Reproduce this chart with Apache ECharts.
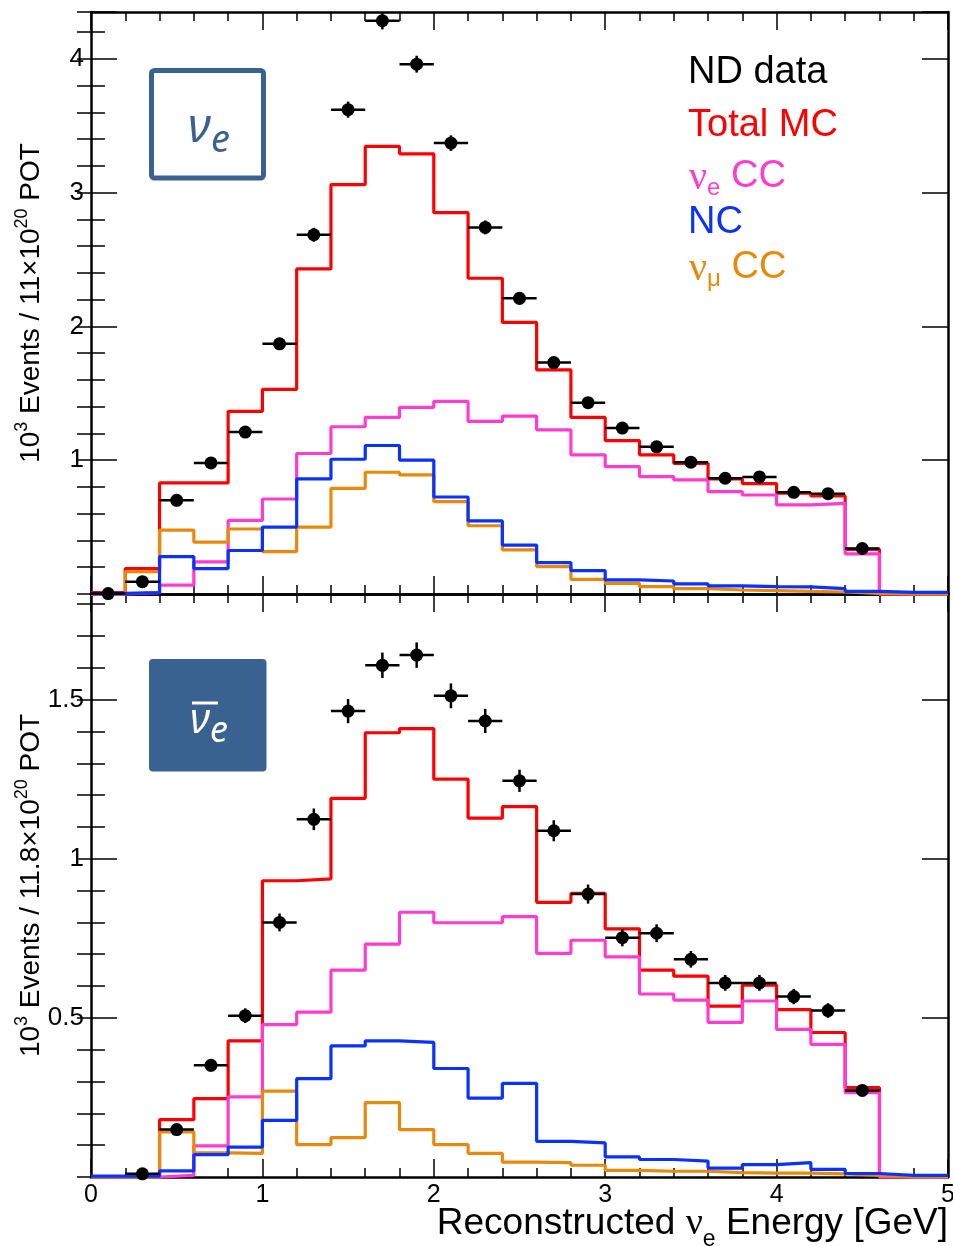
<!DOCTYPE html>
<html>
<head>
<meta charset="utf-8" />
<title>ND nue / nuebar selected spectra</title>
<script src="https://cdn.jsdelivr.net/npm/echarts@6.0.0/dist/echarts.min.js"></script>
</head>
<body style="margin:0; background:#ffffff">
<div id="chart" style="width:953px; height:1246px"></div>
<script type="text/javascript">
// bins of reconstructed energy (GeV)
var binLow = [0, 0.2, 0.4, 0.6, 0.8, 1.0, 1.2, 1.4, 1.6, 1.8, 2.0, 2.2, 2.4, 2.6, 2.8, 3.0, 3.2, 3.4, 3.6, 3.8, 4.0, 4.2, 4.4, 4.6, 4.8];
var binCenter = [0.1, 0.3, 0.5, 0.7, 0.9, 1.1, 1.3, 1.5, 1.7, 1.9, 2.1, 2.3, 2.5, 2.7, 2.9, 3.1, 3.3, 3.5, 3.7, 3.9, 4.1, 4.3, 4.5, 4.7, 4.9];
var lastEdge = 5;
var halfBin = 0.1;

// top panel : nu_e  (10^3 events / 11e20 POT)
var nueData     = [0.003, 0.092, 0.70, 0.98, 1.21, 1.87, 2.685, 3.62, 4.285, 3.96, 3.37, 2.74, 2.21, 1.73, 1.43, 1.24, 1.10, 0.985, 0.865, 0.875, 0.76, 0.75, 0.34, null, null];
var nueDataErr  = [0.002, 0.010, 0.026, 0.031, 0.035, 0.043, 0.052, 0.060, 0.065, 0.063, 0.058, 0.052, 0.047, 0.042, 0.038, 0.035, 0.033, 0.031, 0.029, 0.030, 0.028, 0.027, 0.018, 0, 0];
var nueTotalMC  = [0.01, 0.19, 0.83, 0.83, 1.365, 1.53, 2.43, 3.06, 3.345, 3.29, 2.85, 2.36, 2.03, 1.675, 1.32, 1.147, 1.04, 0.977, 0.86, 0.825, 0.753, 0.733, 0.334, 0, 0];
var nueNueCC    = [0, 0.01, 0.067, 0.24, 0.55, 0.71, 1.05, 1.25, 1.32, 1.395, 1.44, 1.29, 1.33, 1.227, 1.04, 0.952, 0.877, 0.853, 0.765, 0.74, 0.666, 0.678, 0.30, 0, 0];
var nueNC       = [0.005, 0.01, 0.28, 0.19, 0.325, 0.50, 0.86, 1.007, 1.11, 1.00, 0.725, 0.546, 0.366, 0.235, 0.175, 0.105, 0.097, 0.075, 0.06, 0.055, 0.053, 0.04, 0.02, 0.012, 0.012];
var nueNumuCC   = [0, 0.167, 0.478, 0.388, 0.486, 0.317, 0.50, 0.79, 0.91, 0.89, 0.69, 0.51, 0.33, 0.205, 0.11, 0.08, 0.055, 0.04, 0.03, 0.025, 0.02, 0.015, 0.005, 0, 0];

// bottom panel : anti nu_e  (10^3 events / 11.8e20 POT)
var nuebarData    = [null, 0.010, 0.149, 0.351, 0.507, 0.80, 1.124, 1.464, 1.608, 1.64, 1.512, 1.433, 1.245, 1.088, 0.889, 0.752, 0.766, 0.684, 0.61, 0.61, 0.567, 0.523, 0.272, null, null];
var nuebarDataErr = [0, 0.003, 0.012, 0.019, 0.023, 0.028, 0.034, 0.038, 0.040, 0.040, 0.039, 0.038, 0.035, 0.033, 0.030, 0.027, 0.028, 0.026, 0.025, 0.025, 0.024, 0.023, 0.016, 0, 0];
var nuebarTotalMC = [0, 0.005, 0.18, 0.246, 0.428, 0.931, 0.937, 1.19, 1.396, 1.409, 1.25, 1.128, 1.164, 0.863, 0.891, 0.78, 0.65, 0.631, 0.537, 0.603, 0.526, 0.454, 0.281, 0, 0];
var nuebarNueCC   = [0, 0, 0.005, 0.098, 0.252, 0.479, 0.518, 0.65, 0.732, 0.832, 0.799, 0.799, 0.818, 0.703, 0.744, 0.692, 0.575, 0.556, 0.486, 0.553, 0.464, 0.417, 0.265, 0, 0];
var nuebarNC      = [0.003, 0.003, 0.019, 0.07, 0.094, 0.178, 0.309, 0.412, 0.428, 0.423, 0.341, 0.248, 0.294, 0.112, 0.107, 0.063, 0.055, 0.05, 0.028, 0.039, 0.045, 0.024, 0.011, 0.005, 0.005];
var nuebarNumuCC  = [0, 0, 0.142, 0.076, 0.074, 0.27, 0.102, 0.124, 0.234, 0.149, 0.102, 0.074, 0.047, 0.045, 0.037, 0.021, 0.018, 0.018, 0.014, 0.012, 0.012, 0.01, 0.005, 0, 0];

var yMax = [4.35, 1.832];
var yMajor = [1, 0.5];
var yMinor = [0.2, 0.1];

var colRed = '#ff0000', colPink = '#ff3ccd', colBlue = '#0a32ff', colOrange = '#e8890a', colBadge = '#3a6291';
var FONT = 'Liberation Sans';
var SERIF = 'Liberation Serif';

function stepPoints(vals) {
  var pts = binLow.map(function (x, i) { return [x, vals[i]]; });
  pts.push([lastEdge, vals[vals.length - 1]]);
  return pts;
}
function pointData(vals, errs) {
  var out = [];
  binCenter.forEach(function (x, i) {
    if (vals[i] != null) out.push([x, vals[i], errs[i]]);
  });
  return out;
}
function histSeries(name, vals, color, g, z) {
  return {
    name: name, type: 'line', step: 'end', xAxisIndex: g * 2, yAxisIndex: g * 4,
    data: stepPoints(vals), symbol: 'none', clip: false, silent: true, z: z,
    lineStyle: { color: color, width: 3.2 }
  };
}
function renderPoint(params, api) {
  var x = api.value(0), y = api.value(1), e = api.value(2);
  var c = api.coord([x, y]);
  var l = api.coord([x - halfBin, y]), r = api.coord([x + halfBin, y]);
  var t = api.coord([x, y + e]), b = api.coord([x, y - e]);
  return {
    type: 'group',
    children: [
      { type: 'line', shape: { x1: l[0], y1: c[1], x2: r[0], y2: c[1] }, style: { stroke: '#000', lineWidth: 2.5 } },
      { type: 'line', shape: { x1: c[0], y1: t[1], x2: c[0], y2: b[1] }, style: { stroke: '#000', lineWidth: 2.5 } },
      { type: 'circle', shape: { cx: c[0], cy: c[1], r: 6.5 }, style: { fill: '#000' } }
    ]
  };
}
function dataSeries(vals, errs, g) {
  return {
    name: 'ND data', type: 'custom', xAxisIndex: g * 2, yAxisIndex: g * 4,
    data: pointData(vals, errs), renderItem: renderPoint, clip: false, silent: true, z: 10
  };
}

var lineStyleAxis = { color: '#000', width: 2.5 };
var tickStyle = { color: '#000', width: 1.5 };

function xAxisFor(g, pos, labels) {
  return {
    type: 'value', gridIndex: g, position: pos, min: 0, max: lastEdge, interval: 1,
    axisLine: { show: true, onZero: false, lineStyle: lineStyleAxis },
    axisTick: { show: true, inside: true, length: 18, lineStyle: tickStyle },
    minorTick: { show: true, splitNumber: 5, length: 9, lineStyle: tickStyle },
    axisLabel: { show: labels, color: '#000', fontSize: 25, fontFamily: FONT, margin: 6 },
    splitLine: { show: false }, minorSplitLine: { show: false }
  };
}
function yMajorAxis(g, pos, fmt, name) {
  return {
    type: 'value', gridIndex: g, position: pos, min: 0, max: yMax[g], interval: yMajor[g],
    axisLine: { show: true, onZero: false, lineStyle: lineStyleAxis },
    axisTick: { show: true, inside: true, length: 26, lineStyle: tickStyle },
    axisLabel: { show: pos === 'left', color: '#000', fontSize: 26, fontFamily: FONT, margin: 7, formatter: fmt },
    splitLine: { show: false },
    name: name || '', nameLocation: 'middle', nameGap: 46, nameRotate: 90, nameMoveOverlap: false,
    nameTextStyle: {
      rich: {
        n: { fontSize: 28, fontFamily: FONT, color: '#000', lineHeight: 32, verticalAlign: 'bottom' },
        sup: { fontSize: 18, fontFamily: FONT, color: '#000', lineHeight: 18, verticalAlign: 'top' }
      }
    }
  };
}
function yMinorAxis(g, pos) {
  return {
    type: 'value', gridIndex: g, position: pos, min: 0, max: yMax[g], interval: yMinor[g],
    axisLine: { show: false },
    axisTick: { show: true, inside: true, length: 14, lineStyle: tickStyle },
    axisLabel: { show: false }, splitLine: { show: false }
  };
}
function fmtTop(v) {
  return (v > 0 && Math.abs(v - Math.round(v)) < 1e-6) ? String(Math.round(v)) : '';
}
function fmtBottom(v) {
  var h = v * 2;
  return (v > 0 && v < 1.8 && Math.abs(h - Math.round(h)) < 1e-6) ? String(Math.round(h) / 2) : '';
}

var chart = echarts.init(document.getElementById('chart'), null, { renderer: 'canvas' });

// rich text: main tokens hang from the top, subscripts sit on the bottom of a taller line
var legendRich = function (color) {
  return {
    t: { fontSize: 38, fontFamily: FONT, fill: color, lineHeight: 38, verticalAlign: 'top' },
    nu: { fontSize: 40, fontFamily: SERIF, fill: color, lineHeight: 38, verticalAlign: 'top' },
    sub: { fontSize: 24, fontFamily: FONT, fill: color, lineHeight: 42, verticalAlign: 'bottom' }
  };
};

var option = {
  animation: false,
  backgroundColor: '#ffffff',
  grid: [
    { left: 91, top: 12, width: 857, height: 582, outerBoundsMode: 'none', containLabel: false },
    { left: 91, top: 594, width: 857, height: 583, outerBoundsMode: 'none', containLabel: false }
  ],
  xAxis: [
    xAxisFor(0, 'bottom', false),
    xAxisFor(0, 'top', false),
    xAxisFor(1, 'bottom', true),
    xAxisFor(1, 'top', false)
  ],
  yAxis: [
    yMajorAxis(0, 'left', fmtTop, '{n|10}{sup|3}{n| Events / 11×10}{sup|20}{n| POT}'),
    yMinorAxis(0, 'left'),
    yMajorAxis(0, 'right', fmtTop),
    yMinorAxis(0, 'right'),
    yMajorAxis(1, 'left', fmtBottom, '{n|10}{sup|3}{n| Events / 11.8×10}{sup|20}{n| POT}'),
    yMinorAxis(1, 'left'),
    yMajorAxis(1, 'right', fmtBottom),
    yMinorAxis(1, 'right')
  ],
  series: [
    histSeries('Total MC', nueTotalMC, colRed, 0, 3),
    histSeries('nue CC', nueNueCC, colPink, 0, 4),
    histSeries('numu CC', nueNumuCC, colOrange, 0, 5),
    histSeries('NC', nueNC, colBlue, 0, 6),
    dataSeries(nueData, nueDataErr, 0),
    histSeries('Total MC', nuebarTotalMC, colRed, 1, 3),
    histSeries('nue CC', nuebarNueCC, colPink, 1, 4),
    histSeries('numu CC', nuebarNumuCC, colOrange, 1, 5),
    histSeries('NC', nuebarNC, colBlue, 1, 6),
    dataSeries(nuebarData, nuebarDataErr, 1)
  ],
  graphic: [
    // legend (text only, coloured like the series)
    { type: 'text', x: 688, y: 73, z: 20, style: { text: 'ND data', fontSize: 38, fontFamily: FONT, fill: '#000', verticalAlign: 'middle' } },
    { type: 'text', x: 688, y: 126, z: 20, style: { text: 'Total MC', fontSize: 38, fontFamily: FONT, fill: colRed, verticalAlign: 'middle' } },
    { type: 'text', x: 689, y: 158, z: 20, style: { text: '{nu|ν}{sub|e}{t| CC}', rich: legendRich(colPink), verticalAlign: 'top' } },
    { type: 'text', x: 688, y: 223, z: 20, style: { text: 'NC', fontSize: 38, fontFamily: FONT, fill: colBlue, verticalAlign: 'middle' } },
    { type: 'text', x: 689, y: 249, z: 20, style: { text: '{nu|ν}{sub|μ}{t| CC}', rich: legendRich(colOrange), verticalAlign: 'top' } },
    // x axis title
    { type: 'text', x: 948, y: 1205, z: 20, style: {
        text: '{t|Reconstructed }{nu|ν}{sub|e}{t| Energy [GeV]}', align: 'right', verticalAlign: 'top',
        rich: {
          t: { fontSize: 37, fontFamily: FONT, fill: '#000', lineHeight: 37, verticalAlign: 'top' },
          nu: { fontSize: 38, fontFamily: SERIF, fill: '#000', lineHeight: 37, verticalAlign: 'top' },
          sub: { fontSize: 23, fontFamily: FONT, fill: '#000', lineHeight: 46, verticalAlign: 'bottom' }
        }
      } },
    // nu_e badge (top)
    { type: 'rect', z: 20, shape: { x: 151.5, y: 70.5, width: 112, height: 107.5, r: 3 }, style: { fill: null, stroke: colBadge, lineWidth: 5 } },
    { type: 'text', x: 209, y: 104, z: 21, style: {
        text: '{nu|ν}{e|e}', align: 'center', verticalAlign: 'top',
        rich: {
          nu: { fontSize: 48, fontFamily: 'Noto Sans', fontStyle: 'italic', fill: colBadge, lineHeight: 48, verticalAlign: 'top' },
          e: { fontSize: 38, fontFamily: 'Noto Sans', fontStyle: 'italic', fill: colBadge, lineHeight: 56, verticalAlign: 'bottom' }
        }
      } },
    // anti nu_e badge (bottom)
    { type: 'rect', z: 20, shape: { x: 149, y: 659, width: 117.5, height: 112.5, r: 4 }, style: { fill: colBadge } },
    { type: 'text', x: 209, y: 700, z: 21, style: {
        text: '{nu|ν}{e|e}', align: 'center', verticalAlign: 'top',
        rich: {
          nu: { fontSize: 42, fontFamily: 'Noto Sans', fontStyle: 'italic', fill: '#fff', lineHeight: 42, verticalAlign: 'top' },
          e: { fontSize: 36, fontFamily: 'Noto Sans', fontStyle: 'italic', fill: '#fff', lineHeight: 50, verticalAlign: 'bottom' }
        }
      } },
    { type: 'line', z: 21, shape: { x1: 192, y1: 703, x2: 218, y2: 703 }, style: { stroke: '#fff', lineWidth: 3 } }
  ]
};

chart.setOption(option);
</script>
</body>
</html>
